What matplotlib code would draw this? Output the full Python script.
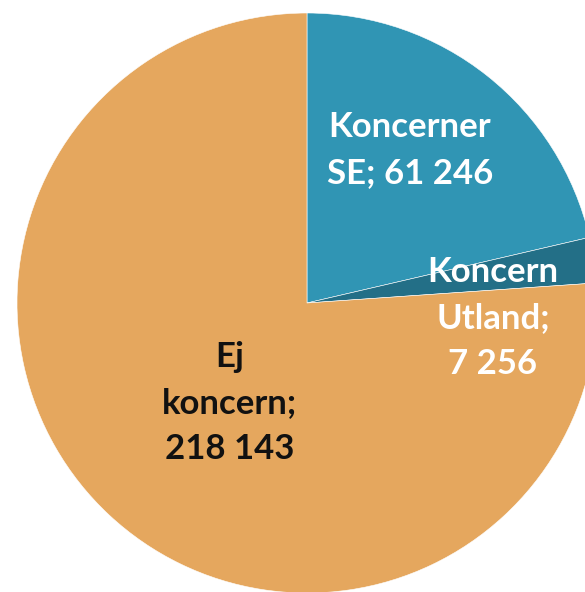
import matplotlib.pyplot as plt

# -------------------- DATA --------------------
labels = ["Koncerner\nSE; 61 246", "Koncern\nUtland;\n7 256", "Ej\nkoncern;\n218 143"]
values = [61246, 7256, 218143]
colors = ["#3095B4", "#236F87", "#E5A75E"]
text_colors = ["white", "white", "#111111"]

# label centres in data units (radius = 1)
label_pos = [(0.355, 0.528), (0.641, -0.052), (-0.266, -0.345)]

# -------------------- PLOT --------------------
fig = plt.figure(figsize=(5.85, 5.92), dpi=100)
ax = fig.add_axes([0, 0, 1, 1])

ax.pie(values, colors=colors, startangle=90, counterclock=False,
       radius=1, center=(0, 0),
       wedgeprops=dict(edgecolor="white", linewidth=0.4))

for lab, (x, y), c in zip(labels, label_pos, text_colors):
    ax.text(x, y, lab, ha="center", va="center", color=c,
            fontsize=25, fontweight="bold", family="Lato",
            linespacing=1.55)

ax.set_xlim(-307 / 290, 278 / 290)
ax.set_ylim(-289 / 290, 303 / 290)
ax.set_aspect("auto")
ax.axis("off")

fig.savefig("out.png", dpi=100)
